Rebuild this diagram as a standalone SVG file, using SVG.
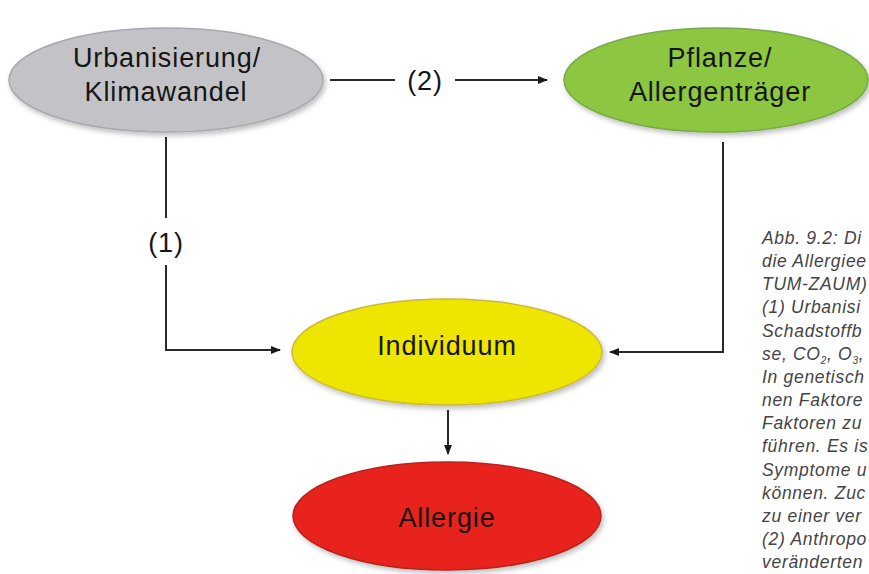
<svg xmlns="http://www.w3.org/2000/svg" width="869" height="574" viewBox="0 0 869 574">
<defs>
<style>
.node-label{font-family:"Liberation Sans",Arial,sans-serif;font-size:27px;fill:#151515;text-anchor:middle;letter-spacing:0.9px}
.edge{fill:none;stroke:#2a2a2a;stroke-width:2}
.edge-label{font-family:"Liberation Sans",Arial,sans-serif;font-size:27px;fill:#151515;text-anchor:middle;letter-spacing:0.9px}
.caption{font-family:"Liberation Sans",Arial,sans-serif;font-style:italic;font-size:17.5px;fill:#444;letter-spacing:0.7px}
</style>
<filter id="shadow" x="-10%" y="-20%" width="125%" height="150%">
<feDropShadow dx="2" dy="3" stdDeviation="2.5" flood-color="#000" flood-opacity="0.25"/>
</filter>
<marker id="arrow" viewBox="0 0 10 10" refX="9" refY="5" markerWidth="10" markerHeight="10" markerUnits="userSpaceOnUse" orient="auto">
<path d="M0,1 L10,5 L0,9 Z" fill="#1a1a1a"/>
</marker>
</defs>
<rect width="869" height="574" fill="#ffffff"/>

<g id="connectors">
<line class="edge" x1="330" y1="80" x2="395" y2="80"/>
<line class="edge" x1="455" y1="80" x2="547" y2="80" marker-end="url(#arrow)"/>
<text class="edge-label" x="425" y="90">(2)</text>
<line class="edge" x1="166" y1="137" x2="166" y2="218"/>
<text class="edge-label" x="166" y="252">(1)</text>
<polyline class="edge" points="166,265 166,350 280,350" marker-end="url(#arrow)"/>
<polyline class="edge" points="723,142 723,352 610,352" stroke="#4a4a4a" stroke-width="2.5" marker-end="url(#arrow)"/>
<line class="edge" x1="448" y1="410" x2="448" y2="454" marker-end="url(#arrow)"/>
</g>

<g id="urbanisierung">
<ellipse cx="166" cy="80" rx="157" ry="52" fill="#c3c3c7" stroke="#a7a7ad" stroke-width="1.5" filter="url(#shadow)"/>
<text class="node-label" x="167" y="67">Urbanisierung/</text>
<text class="node-label" x="166" y="101">Klimawandel</text>
</g>

<g id="pflanze">
<ellipse cx="716" cy="80" rx="152" ry="52" fill="#8dc63f" stroke="#79a94a" stroke-width="1.5" filter="url(#shadow)"/>
<text class="node-label" x="720" y="67">Pflanze/</text>
<text class="node-label" x="720" y="101">Allergenträger</text>
</g>

<g id="individuum">
<ellipse cx="447" cy="352" rx="155" ry="53" fill="#eee600" stroke="#c9b93a" stroke-width="1.5" filter="url(#shadow)"/>
<text class="node-label" x="447" y="355">Individuum</text>
</g>

<g id="allergie">
<ellipse cx="447" cy="516" rx="154" ry="54" fill="#e8231c" stroke="#b9241f" stroke-width="1.5" filter="url(#shadow)"/>
<text class="node-label" x="447" y="527">Allergie</text>
</g>

<g id="caption">
<text class="caption" x="762" y="244">Abb. 9.2: Di</text>
<text class="caption" x="762" y="267.1">die Allergiee</text>
<text class="caption" x="762" y="290.3">TUM-ZAUM)</text>
<text class="caption" x="762" y="313.4">(1) Urbanisi</text>
<text class="caption" x="762" y="336.6">Schadstoffb</text>
<text class="caption" x="762" y="359.7">se, CO<tspan font-size="10" dy="4">2</tspan><tspan dy="-4">, O</tspan><tspan font-size="10" dy="4">3</tspan><tspan dy="-4">,</tspan></text>
<text class="caption" x="762" y="382.9">In genetisch</text>
<text class="caption" x="762" y="406">nen Faktore</text>
<text class="caption" x="762" y="429.2">Faktoren zu</text>
<text class="caption" x="762" y="452.3">führen. Es is</text>
<text class="caption" x="762" y="475.5">Symptome u</text>
<text class="caption" x="762" y="498.6">können. Zuc</text>
<text class="caption" x="762" y="521.8">zu einer ver</text>
<text class="caption" x="762" y="544.9">(2) Anthropo</text>
<text class="caption" x="762" y="568">veränderten</text>
</g>
</svg>
